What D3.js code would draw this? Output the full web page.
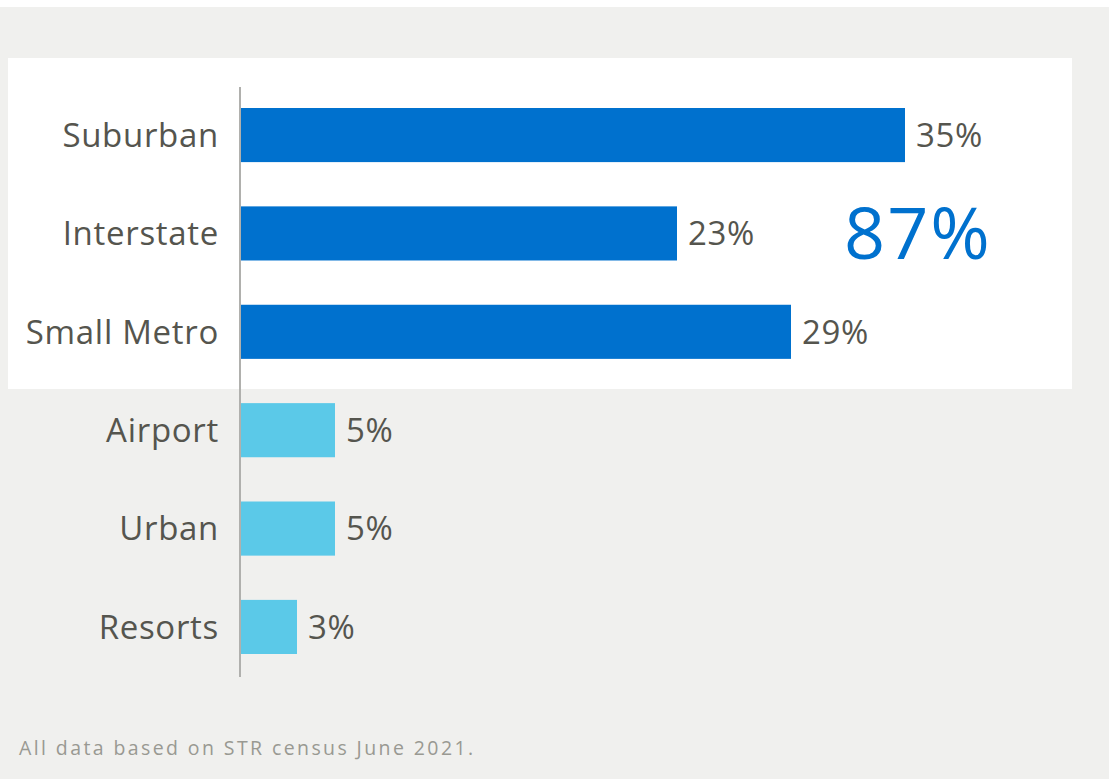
<!DOCTYPE html>
<html>
<head>
<meta charset="utf-8">
<script src="https://cdn.jsdelivr.net/npm/d3@7"></script>
<style>
  html, body { margin: 0; padding: 0; background: #fff; }
  svg { display: block; font-family: "Open Sans", Lato, sans-serif; }
</style>
</head>
<body>
<script>
var categories = ["Suburban", "Interstate", "Small Metro", "Airport", "Urban", "Resorts"];
var shares = [35, 23, 29, 5, 5, 3];
var highlighted = ["Suburban", "Interstate", "Small Metro"];
var totalLabel = "87%";
var footnote = "All data based on STR census June 2021.";

var data = categories.map(function (c, i) {
  return { name: c, value: shares[i], hi: highlighted.indexOf(c) >= 0 };
});

var svg = d3.select('body').append('svg')
  .attr('width', 1109)
  .attr('height', 779);

// page background and highlight panel
svg.append('rect').attr('x', 0).attr('y', 7).attr('width', 1109).attr('height', 772).attr('fill', '#f0f0ee');
svg.append('rect').attr('x', 8).attr('y', 58).attr('width', 1064).attr('height', 331).attr('fill', '#ffffff');

var x0 = 240;
var x = d3.scaleLinear().domain([0, 35]).range([x0, 905]);
var y = d3.scaleBand().domain(categories).range([108, 654]).paddingInner(0.45).paddingOuter(0);

var g = svg.append('g');

g.selectAll('rect.bar')
  .data(data)
  .enter().append('rect')
  .attr('class', 'bar')
  .attr('x', x(0))
  .attr('y', function (d) { return y(d.name); })
  .attr('width', function (d) { return x(d.value) - x(0); })
  .attr('height', y.bandwidth())
  .attr('fill', function (d) { return d.hi ? '#0071ce' : '#5bc9e8'; });

// axis line
g.append('line')
  .attr('x1', x0).attr('x2', x0)
  .attr('y1', 87).attr('y2', 677)
  .attr('stroke', '#b0b0ad')
  .attr('stroke-width', 2);

// category labels
g.selectAll('text.cat')
  .data(data)
  .enter().append('text')
  .attr('class', 'cat')
  .attr('x', 219)
  .attr('y', function (d) { return y(d.name) + y.bandwidth() / 2; })
  .attr('dy', '0.36em')
  .style('text-anchor', 'end')
  .style('font-size', '33px')
  .style('letter-spacing', '0.7px')
  .style('fill', '#55554e')
  .text(function (d) { return d.name; });

// value labels
g.selectAll('text.val')
  .data(data)
  .enter().append('text')
  .attr('class', 'val')
  .attr('x', function (d) { return x(d.value) + 11; })
  .attr('y', function (d) { return y(d.name) + y.bandwidth() / 2; })
  .attr('dy', '0.36em')
  .style('font-size', '33px')
  .style('letter-spacing', '0.6px')
  .style('fill', '#55554e')
  .text(function (d) { return d.value + '%'; });

// big total
g.append('text')
  .attr('x', 844)
  .attr('y', 259)
  .style('font-size', '72px')
  .style('letter-spacing', '2px')
  .style('fill', '#0071ce')
  .text(totalLabel);

// footnote
svg.append('text')
  .attr('x', 19)
  .attr('y', 755)
  .style('font-size', '19.5px')
  .style('letter-spacing', '2.4px')
  .style('fill', '#999992')
  .text(footnote);
</script>
</body>
</html>
